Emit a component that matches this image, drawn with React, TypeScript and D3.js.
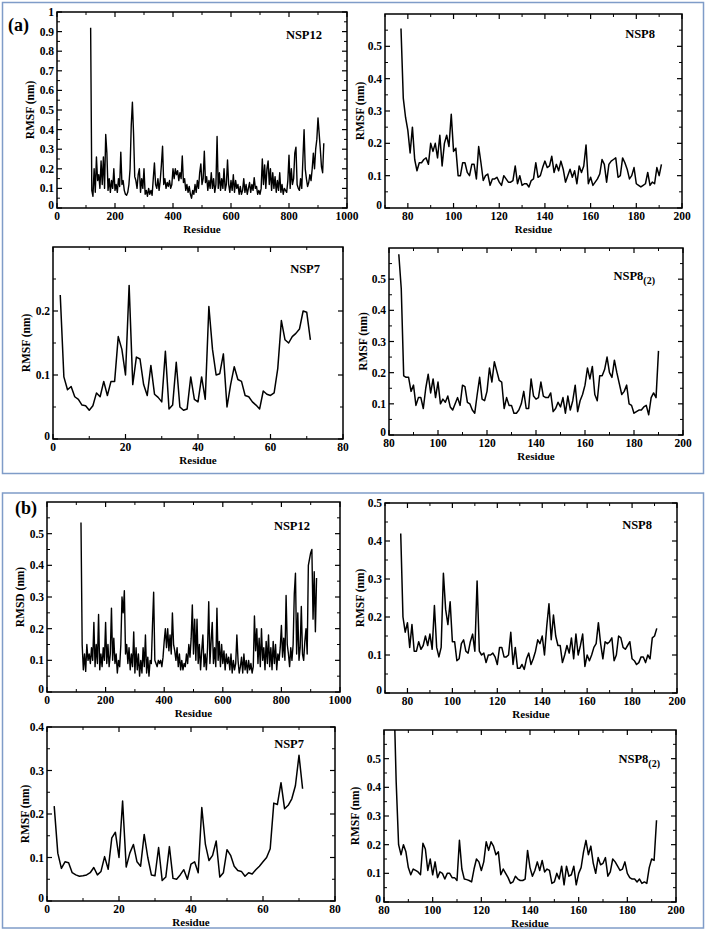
import React from "react";
import * as d3 from "d3";

// ---------- DATA ----------
// NSP12 (every 4th residue, starting at residue 116)
const nsp12Start = 116;
const nsp12Step = 4;
const nsp12aRMSF = [0.92,0.09,0.06,0.2,0.08,0.26,0.14,0.17,0.1,0.24,0.12,0.26,0.1,0.375,0.28,0.09,0.15,0.08,0.14,0.1,0.2,0.09,0.12,0.08,0.15,0.11,0.285,0.12,0.14,0.09,0.07,0.065,0.08,0.12,0.2,0.42,0.54,0.38,0.16,0.14,0.1,0.17,0.2,0.08,0.15,0.1,0.2,0.07,0.09,0.06,0.1,0.07,0.09,0.065,0.15,0.23,0.12,0.1,0.15,0.09,0.14,0.22,0.315,0.12,0.15,0.1,0.13,0.11,0.14,0.1,0.12,0.2,0.15,0.2,0.17,0.19,0.14,0.18,0.15,0.265,0.13,0.15,0.09,0.12,0.08,0.11,0.07,0.05,0.09,0.07,0.12,0.08,0.14,0.1,0.18,0.225,0.12,0.15,0.29,0.13,0.16,0.09,0.14,0.1,0.18,0.1,0.15,0.08,0.12,0.365,0.1,0.18,0.09,0.15,0.1,0.2,0.09,0.12,0.245,0.12,0.08,0.14,0.09,0.17,0.08,0.14,0.1,0.12,0.07,0.11,0.07,0.09,0.15,0.08,0.12,0.07,0.1,0.13,0.08,0.12,0.09,0.155,0.1,0.11,0.07,0.09,0.07,0.1,0.25,0.12,0.22,0.1,0.2,0.24,0.12,0.2,0.09,0.18,0.1,0.16,0.08,0.14,0.09,0.18,0.08,0.12,0.07,0.1,0.09,0.08,0.14,0.27,0.1,0.2,0.12,0.15,0.28,0.31,0.12,0.1,0.09,0.15,0.1,0.25,0.4,0.2,0.15,0.11,0.13,0.17,0.14,0.2,0.28,0.2,0.3,0.35,0.46,0.38,0.3,0.21,0.18,0.33];
const nsp12bRMSD = [0.535,0.15,0.07,0.12,0.065,0.15,0.1,0.12,0.09,0.14,0.1,0.22,0.08,0.15,0.09,0.245,0.07,0.12,0.08,0.14,0.1,0.22,0.09,0.15,0.08,0.12,0.265,0.1,0.17,0.09,0.12,0.06,0.1,0.08,0.15,0.3,0.25,0.32,0.12,0.15,0.09,0.14,0.07,0.12,0.08,0.19,0.06,0.14,0.07,0.12,0.05,0.1,0.06,0.14,0.08,0.18,0.06,0.11,0.05,0.1,0.09,0.21,0.315,0.1,0.09,0.08,0.1,0.09,0.1,0.08,0.11,0.16,0.2,0.14,0.2,0.13,0.18,0.12,0.25,0.15,0.13,0.1,0.14,0.08,0.12,0.07,0.1,0.07,0.09,0.08,0.12,0.09,0.15,0.11,0.17,0.275,0.12,0.23,0.1,0.23,0.09,0.15,0.07,0.13,0.18,0.08,0.12,0.07,0.14,0.285,0.09,0.16,0.22,0.09,0.14,0.08,0.265,0.1,0.16,0.08,0.15,0.09,0.13,0.07,0.12,0.09,0.11,0.07,0.12,0.06,0.1,0.07,0.09,0.18,0.1,0.06,0.08,0.11,0.06,0.12,0.07,0.1,0.06,0.1,0.07,0.09,0.06,0.08,0.24,0.13,0.2,0.09,0.17,0.08,0.2,0.1,0.14,0.07,0.16,0.09,0.18,0.08,0.14,0.07,0.16,0.09,0.15,0.07,0.12,0.1,0.14,0.21,0.11,0.17,0.1,0.305,0.15,0.12,0.08,0.14,0.1,0.15,0.31,0.375,0.12,0.25,0.1,0.14,0.27,0.12,0.1,0.16,0.2,0.12,0.4,0.42,0.44,0.45,0.23,0.38,0.19,0.36];

// NSP8 (residues 77..191)
const nsp8Start = 77;
const nsp8aRMSF = [0.555,0.34,0.28,0.24,0.17,0.25,0.15,0.115,0.14,0.14,0.15,0.155,0.135,0.2,0.175,0.2,0.155,0.225,0.13,0.2,0.225,0.19,0.29,0.175,0.185,0.1,0.1,0.14,0.14,0.11,0.1,0.135,0.135,0.09,0.19,0.14,0.085,0.1,0.105,0.07,0.09,0.09,0.095,0.08,0.07,0.1,0.09,0.08,0.08,0.085,0.13,0.075,0.1,0.07,0.075,0.075,0.065,0.085,0.09,0.14,0.095,0.1,0.125,0.145,0.125,0.13,0.16,0.11,0.135,0.115,0.145,0.12,0.08,0.1,0.12,0.095,0.115,0.075,0.13,0.11,0.13,0.195,0.075,0.095,0.07,0.08,0.09,0.105,0.15,0.135,0.08,0.135,0.145,0.15,0.155,0.095,0.1,0.155,0.14,0.12,0.09,0.1,0.125,0.075,0.07,0.065,0.07,0.075,0.11,0.07,0.08,0.075,0.125,0.1,0.135];
const nsp8bRMSF = [0.42,0.2,0.16,0.185,0.12,0.18,0.11,0.11,0.135,0.115,0.125,0.15,0.125,0.155,0.115,0.23,0.12,0.095,0.12,0.315,0.22,0.18,0.24,0.135,0.135,0.085,0.09,0.13,0.14,0.11,0.105,0.135,0.155,0.11,0.295,0.11,0.1,0.105,0.08,0.1,0.1,0.105,0.095,0.075,0.12,0.12,0.095,0.095,0.1,0.16,0.075,0.12,0.065,0.065,0.075,0.062,0.09,0.105,0.075,0.09,0.11,0.14,0.13,0.15,0.1,0.175,0.235,0.14,0.205,0.15,0.125,0.125,0.08,0.1,0.125,0.105,0.145,0.09,0.155,0.1,0.125,0.155,0.07,0.1,0.085,0.1,0.12,0.13,0.185,0.13,0.09,0.135,0.13,0.135,0.145,0.085,0.1,0.15,0.145,0.12,0.115,0.125,0.135,0.09,0.085,0.075,0.08,0.095,0.095,0.08,0.1,0.09,0.145,0.15,0.17];

// NSP7 (residues 2..71)
const nsp7Start = 2;
const nsp7aRMSF = [0.225,0.097,0.077,0.082,0.066,0.062,0.053,0.052,0.045,0.052,0.072,0.066,0.09,0.068,0.09,0.09,0.16,0.14,0.1,0.24,0.085,0.128,0.125,0.085,0.068,0.115,0.07,0.065,0.058,0.137,0.047,0.053,0.12,0.05,0.045,0.047,0.097,0.062,0.058,0.097,0.062,0.207,0.14,0.1,0.102,0.133,0.05,0.085,0.113,0.093,0.09,0.068,0.066,0.058,0.053,0.047,0.075,0.07,0.068,0.072,0.11,0.185,0.155,0.15,0.16,0.165,0.172,0.2,0.198,0.155];
const nsp7bRMSF = [0.218,0.11,0.075,0.09,0.088,0.065,0.06,0.057,0.058,0.06,0.065,0.077,0.06,0.068,0.102,0.073,0.145,0.158,0.1,0.23,0.078,0.11,0.13,0.09,0.08,0.153,0.1,0.06,0.058,0.123,0.047,0.055,0.125,0.052,0.05,0.06,0.072,0.05,0.085,0.09,0.065,0.215,0.13,0.093,0.105,0.138,0.055,0.065,0.118,0.105,0.08,0.07,0.068,0.057,0.065,0.062,0.072,0.08,0.09,0.1,0.12,0.225,0.222,0.272,0.212,0.22,0.235,0.265,0.335,0.258];

// NSP8(2) (residues from 84)
const nsp82Start = 84;
const nsp82aRMSF = [0.58,0.47,0.19,0.185,0.185,0.14,0.16,0.095,0.12,0.12,0.085,0.15,0.195,0.135,0.18,0.12,0.17,0.1,0.115,0.105,0.125,0.09,0.08,0.1,0.12,0.095,0.16,0.155,0.105,0.1,0.08,0.07,0.13,0.185,0.115,0.11,0.14,0.215,0.17,0.235,0.205,0.175,0.17,0.085,0.12,0.095,0.095,0.07,0.07,0.08,0.1,0.14,0.085,0.085,0.18,0.125,0.115,0.12,0.17,0.125,0.12,0.12,0.135,0.075,0.085,0.105,0.09,0.12,0.07,0.125,0.08,0.11,0.16,0.075,0.11,0.13,0.16,0.215,0.18,0.22,0.13,0.11,0.19,0.19,0.21,0.25,0.2,0.185,0.24,0.2,0.165,0.13,0.14,0.16,0.1,0.095,0.07,0.075,0.08,0.08,0.09,0.095,0.065,0.12,0.135,0.12,0.27];
const nsp82bRMSF = [0.75,0.42,0.2,0.165,0.2,0.175,0.12,0.095,0.115,0.11,0.105,0.095,0.205,0.185,0.11,0.15,0.095,0.14,0.085,0.105,0.1,0.08,0.1,0.1,0.085,0.085,0.075,0.215,0.115,0.08,0.078,0.075,0.07,0.115,0.15,0.14,0.11,0.14,0.21,0.18,0.21,0.195,0.165,0.175,0.095,0.115,0.1,0.085,0.065,0.07,0.09,0.08,0.075,0.075,0.08,0.18,0.12,0.09,0.11,0.14,0.11,0.145,0.105,0.115,0.11,0.065,0.07,0.1,0.08,0.125,0.06,0.125,0.09,0.095,0.125,0.06,0.1,0.12,0.175,0.215,0.165,0.195,0.135,0.1,0.155,0.13,0.135,0.155,0.09,0.105,0.15,0.14,0.125,0.11,0.115,0.14,0.1,0.085,0.08,0.08,0.07,0.08,0.065,0.07,0.065,0.12,0.15,0.145,0.285];

// Tick labels
const xTicks1000 = [0, 200, 400, 600, 800, 1000];
const xMinor1000 = [100, 300, 500, 700, 900];
const xTicks200from80 = [80, 100, 120, 140, 160, 180, 200];
const xMinor200from70 = [70, 90, 110, 130, 150, 170, 190];
const xMinor200from80 = [90, 110, 130, 150, 170, 190];
const xTicks80 = [0, 20, 40, 60, 80];
const xMinor80 = [10, 30, 50, 70];
const yTicks10 = [0, 0.1, 0.2, 0.3, 0.4, 0.5, 0.6, 0.7, 0.8, 0.9, 1];
const yMinor10 = [0.05, 0.15, 0.25, 0.35, 0.45, 0.55, 0.65, 0.75, 0.85, 0.95];
const yTicks05 = [0, 0.1, 0.2, 0.3, 0.4, 0.5];
const yTicks04 = [0, 0.1, 0.2, 0.3, 0.4];
const yTicks02 = [0, 0.1, 0.2];
const yMinor06 = [0.05, 0.15, 0.25, 0.35, 0.45, 0.55];
const yMinor05 = [0.05, 0.15, 0.25, 0.35, 0.45];
const yMinor04 = [0.05, 0.15, 0.25, 0.35];
const yMinor03 = [0.05, 0.15, 0.25];

const FONT = "'Liberation Serif', 'Times New Roman', serif";

type PlotProps = {
  id: string;
  box: { l: number; t: number; r: number; b: number };
  xDomain: [number, number];
  yDomain: [number, number];
  xTicks: number[];
  xMinor: number[];
  yTicks: number[];
  yMinor: number[];
  start: number;
  step: number;
  values: number[];
  title: string;
  titleSub?: string;
  titleX: number;
  titleY: number;
  yLabel: string;
  yLabelX: number;
  lineWidth?: number;
};

const fmt = (v: number) => String(+v.toFixed(2));

function Plot(p: PlotProps) {
  const { l, t, r, b } = p.box;
  const x = d3.scaleLinear().domain(p.xDomain).range([l, r]);
  const y = d3.scaleLinear().domain(p.yDomain).range([b, t]);
  const pts = p.values.map((v, i) => [p.start + i * p.step, v] as [number, number]);
  const line = d3.line<[number, number]>().x((d) => x(d[0])).y((d) => y(d[1]));
  const maj = 5;
  const min = 3;
  return (
    <g fontFamily={FONT} fontWeight="bold">
      <defs>
        <clipPath id={p.id}>
          <rect x={l} y={t} width={r - l} height={b - t} />
        </clipPath>
      </defs>
      <path d={line(pts) || ""} fill="none" stroke="#000" strokeWidth={p.lineWidth ?? 1.5} strokeLinejoin="round" clipPath={`url(#${p.id})`} />
      <rect x={l} y={t} width={r - l} height={b - t} fill="none" stroke="#000" strokeWidth={1.5} />
      {p.xTicks.map((v) => (
        <g key={"xt" + v}>
          <line x1={x(v)} x2={x(v)} y1={b} y2={b - maj} stroke="#000" strokeWidth={1.2} />
          <line x1={x(v)} x2={x(v)} y1={t} y2={t + maj} stroke="#000" strokeWidth={1.2} />
          <text x={x(v)} y={b + 11.5} textAnchor="middle" fontSize={11.5}>{fmt(v)}</text>
        </g>
      ))}
      {p.xMinor.map((v) => (
        <g key={"xm" + v}>
          <line x1={x(v)} x2={x(v)} y1={b} y2={b - min} stroke="#000" strokeWidth={1} />
          <line x1={x(v)} x2={x(v)} y1={t} y2={t + min} stroke="#000" strokeWidth={1} />
        </g>
      ))}
      {p.yTicks.map((v) => (
        <g key={"yt" + v}>
          <line x1={l} x2={l + maj} y1={y(v)} y2={y(v)} stroke="#000" strokeWidth={1.2} />
          <line x1={r} x2={r - maj} y1={y(v)} y2={y(v)} stroke="#000" strokeWidth={1.2} />
          <text x={l - 3} y={y(v) + (v === 0 ? 1 : 4)} textAnchor="end" fontSize={11.5}>{fmt(v)}</text>
        </g>
      ))}
      {p.yMinor.map((v) => (
        <g key={"ym" + v}>
          <line x1={l} x2={l + min} y1={y(v)} y2={y(v)} stroke="#000" strokeWidth={1} />
          <line x1={r} x2={r - min} y1={y(v)} y2={y(v)} stroke="#000" strokeWidth={1} />
        </g>
      ))}
      <text x={(l + r) / 2} y={b + 24.5} textAnchor="middle" fontSize={11}>Residue</text>
      <text transform={`translate(${p.yLabelX},${(t + b) / 2}) rotate(-90)`} textAnchor="middle" fontSize={11.5}>{p.yLabel}</text>
      <text x={p.titleX} y={p.titleY} textAnchor="end" fontSize={12.5}>
        {p.title}
        {p.titleSub ? <tspan fontSize={10} dy={4}>{p.titleSub}</tspan> : null}
      </text>
    </g>
  );
}

export default function App() {
  return (
    <svg width={708} height={935} style={{ position: "absolute", left: 0, top: 0, background: "#fff" }}>
      <rect x={0} y={0} width={708} height={935} fill="#fff" />
      <rect x={2.5} y={2.5} width={701} height={471} fill="none" stroke="#7f9cc8" strokeWidth={1.5} />
      <rect x={2.5} y={493} width={701} height={435} fill="none" stroke="#7f9cc8" strokeWidth={1.5} />
      <text x={8} y={31} fontFamily={FONT} fontWeight="bold" fontSize={18}>(a)</text>
      <text x={15} y={514} fontFamily={FONT} fontWeight="bold" fontSize={18}>(b)</text>

      <Plot id="c1" box={{ l: 57, t: 12, r: 347, b: 208 }} xDomain={[0, 1000]} yDomain={[0, 1]}
        xTicks={xTicks1000} xMinor={xMinor1000} yTicks={yTicks10} yMinor={yMinor10}
        start={nsp12Start} step={nsp12Step} values={nsp12aRMSF} lineWidth={1.4}
        title="NSP12" titleX={322} titleY={39} yLabel="RMSF (nm)" yLabelX={34} />
      <Plot id="c2" box={{ l: 385, t: 14, r: 682, b: 208 }} xDomain={[70, 200]} yDomain={[0, 0.6]}
        xTicks={xTicks200from80} xMinor={xMinor200from70} yTicks={yTicks05} yMinor={yMinor06}
        start={nsp8Start} step={1} values={nsp8aRMSF}
        title="NSP8" titleX={655} titleY={38} yLabel="RMSF (nm)" yLabelX={364} />
      <Plot id="c3" box={{ l: 53, t: 247, r: 343, b: 439 }} xDomain={[0, 80]} yDomain={[0, 0.3]}
        xTicks={xTicks80} xMinor={xMinor80} yTicks={yTicks02} yMinor={yMinor03}
        start={nsp7Start} step={1} values={nsp7aRMSF}
        title="NSP7" titleX={320} titleY={273} yLabel="RMSF (nm)" yLabelX={30} />
      <Plot id="c4" box={{ l: 389, t: 248, r: 683, b: 435 }} xDomain={[80, 200]} yDomain={[0, 0.6]}
        xTicks={xTicks200from80} xMinor={xMinor200from80} yTicks={yTicks05} yMinor={yMinor06}
        start={nsp82Start} step={1} values={nsp82aRMSF}
        title="NSP8" titleSub="(2)" titleX={655} titleY={280} yLabel="RMSF (nm)" yLabelX={367} />

      <Plot id="c5" box={{ l: 47, t: 502, r: 340, b: 692 }} xDomain={[0, 1000]} yDomain={[0, 0.6]}
        xTicks={xTicks1000} xMinor={xMinor1000} yTicks={yTicks05} yMinor={yMinor06}
        start={nsp12Start} step={nsp12Step} values={nsp12bRMSD} lineWidth={1.4}
        title="NSP12" titleX={310} titleY={530} yLabel="RMSD (nm)" yLabelX={24} />
      <Plot id="c6" box={{ l: 385, t: 503, r: 677, b: 693 }} xDomain={[70, 200]} yDomain={[0, 0.5]}
        xTicks={xTicks200from80} xMinor={xMinor200from70} yTicks={yTicks05} yMinor={yMinor05}
        start={nsp8Start} step={1} values={nsp8bRMSF}
        title="NSP8" titleX={652} titleY={529} yLabel="RMSF (nm)" yLabelX={364} />
      <Plot id="c7" box={{ l: 47, t: 727, r: 335, b: 901 }} xDomain={[0, 80]} yDomain={[0, 0.4]}
        xTicks={xTicks80} xMinor={xMinor80} yTicks={yTicks04} yMinor={yMinor04}
        start={nsp7Start} step={1} values={nsp7bRMSF}
        title="NSP7" titleX={304} titleY={748} yLabel="RMSF (nm)" yLabelX={29} />
      <Plot id="c8" box={{ l: 384, t: 730, r: 676, b: 902 }} xDomain={[80, 200]} yDomain={[0, 0.6]}
        xTicks={xTicks200from80} xMinor={xMinor200from80} yTicks={yTicks05} yMinor={yMinor06}
        start={nsp82Start} step={1} values={nsp82bRMSF}
        title="NSP8" titleSub="(2)" titleX={660} titleY={763} yLabel="RMSF (nm)" yLabelX={359} />
    </svg>
  );
}
